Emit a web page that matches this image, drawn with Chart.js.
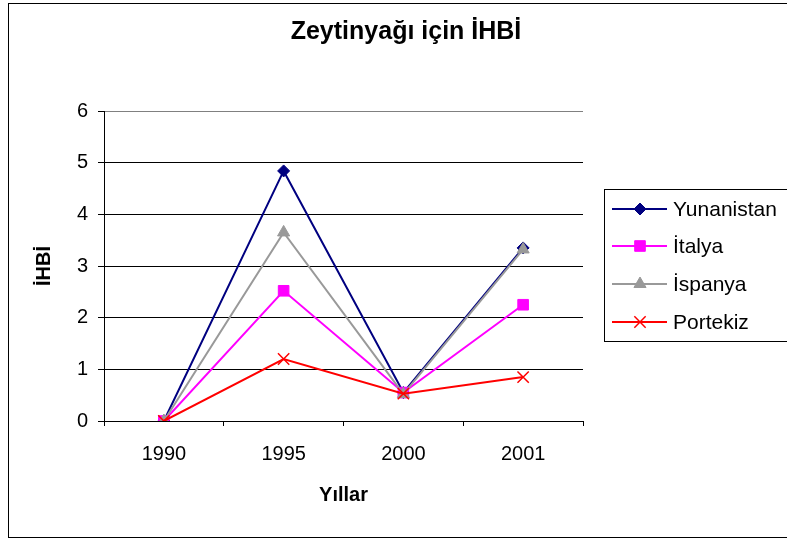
<!DOCTYPE html>
<html>
<head>
<meta charset="utf-8">
<script src="https://cdn.jsdelivr.net/npm/chart.js@4.4.1/dist/chart.umd.min.js"></script>
<style>
  html, body { margin: 0; padding: 0; background: #fff; }
  #wrap { width: 787px; height: 541px; }
</style>
</head>
<body>
<div id="wrap"><canvas id="ihbiChart" width="787" height="541"></canvas></div>
<script>
// veriler
const years = ['1990', '1995', '2000', '2001'];
const yunanistan = [0, 4.84, 0.55, 3.35];
const italya = [0, 2.52, 0.55, 2.25];
const ispanya = [0, 3.65, 0.52, 3.32];
const portekiz = [0, 1.2, 0.53, 0.85];
const yTicks = [0, 1, 2, 3, 4, 5, 6];
const chartTitle = 'Zeytinyağı için İHBİ';

const FONT = 'Arial, "Liberation Sans", sans-serif';

// çerçeve, başlık ve açıklama kutusu (Excel tarzı)
const excelFrame = {
    id: 'excelFrame',
    beforeDraw(chart) {
        const c = chart.ctx;
        c.save();
        c.fillStyle = '#fff';
        c.fillRect(0, 0, chart.width, chart.height);
        c.strokeStyle = '#000';
        c.lineWidth = 1;
        c.strokeRect(8.5, 3.5, 800, 534);
        c.restore();
    },
    afterDraw(chart) {
        const c = chart.ctx;
        c.save();
        // başlık
        c.fillStyle = '#000';
        c.font = 'bold 25px ' + FONT;
        c.textAlign = 'center';
        c.textBaseline = 'middle';
        c.fillText(chartTitle, 406, 32);

        // açıklama
        c.strokeStyle = '#000';
        c.lineWidth = 1;
        c.strokeRect(604.5, 189.5, 200, 152);
        c.font = '21px ' + FONT;
        c.textAlign = 'left';
        const rows = [209, 246, 284, 322];
        chart.data.datasets.forEach((ds, i) => {
            const y = rows[i];
            c.strokeStyle = ds.borderColor;
            c.lineWidth = 2;
            c.beginPath();
            c.moveTo(612, y);
            c.lineTo(667, y);
            c.stroke();
            c.fillStyle = ds.borderColor;
            c.lineWidth = ds.pointBorderWidth;
            Chart.helpers.drawPoint(c, {
                pointStyle: ds.pointStyle,
                radius: ds.pointRadius,
                borderWidth: ds.pointBorderWidth
            }, 640, y);
            c.fillStyle = '#000';
            c.fillText(ds.label, 673, y + 1);
        });
        c.restore();
    }
};

function seri(label, data, color, style, radius, order) {
    return {
        label: label,
        data: data,
        borderColor: color,
        backgroundColor: color,
        pointBackgroundColor: color,
        pointBorderColor: color,
        pointStyle: style,
        pointRadius: radius,
        pointBorderWidth: style === 'crossRot' ? 1.5 : 1,
        borderWidth: 2,
        tension: 0,
        order: order
    };
}

const ctx = document.getElementById('ihbiChart').getContext('2d');
new Chart(ctx, {
    type: 'line',
    data: {
        labels: years,
        datasets: [
            seri('Yunanistan', yunanistan, '#000080', 'rectRot', 6, 4),
            seri('İtalya', italya, '#FF00FF', 'rect', 7.5, 3),
            seri('İspanya', ispanya, '#999999', 'triangle', 7, 2),
            seri('Portekiz', portekiz, '#FF0000', 'crossRot', 8, 1)
        ]
    },
    options: {
        responsive: false,
        animation: false,
        layout: { padding: { left: 0, top: 111, right: 204, bottom: 0 } },
        plugins: {
            legend: { display: false },
            tooltip: { enabled: false },
            title: { display: false }
        },
        scales: {
            x: {
                offset: true,
                afterFit(scale) { scale.height = 120; },
                grid: {
                    offset: true,
                    drawOnChartArea: true,
                    color: c => c.index === years.length ? '#808080' : 'rgba(0,0,0,0)',
                    tickColor: '#000',
                    tickLength: 5,
                    lineWidth: 1
                },
                border: { color: '#000', width: 1 },
                ticks: {
                    color: '#000',
                    font: { family: FONT, size: 20 },
                    padding: 16,
                    maxRotation: 0
                },
                title: {
                    display: true,
                    text: 'Yıllar',
                    color: '#000',
                    font: { family: FONT, size: 20, weight: 'bold' },
                    padding: { top: 0, bottom: 34 }
                }
            },
            y: {
                min: yTicks[0],
                max: yTicks[yTicks.length - 1],
                afterFit(scale) { scale.width = 104; },
                afterBuildTicks(scale) { scale.ticks = yTicks.map(v => ({ value: v })); },
                grid: {
                    color: c => c.tick && c.tick.value === 6 ? '#808080' : '#000',
                    tickColor: '#000',
                    tickLength: 6,
                    lineWidth: 1
                },
                border: { color: '#000', width: 1 },
                ticks: {
                    color: '#000',
                    font: { family: FONT, size: 20 },
                    padding: 10
                },
                title: {
                    display: true,
                    text: 'İHBİ',
                    color: '#000',
                    font: { family: FONT, size: 20, weight: 'bold' },
                    padding: { top: 32, bottom: 0 }
                }
            }
        }
    },
    plugins: [excelFrame]
});
</script>
</body>
</html>
